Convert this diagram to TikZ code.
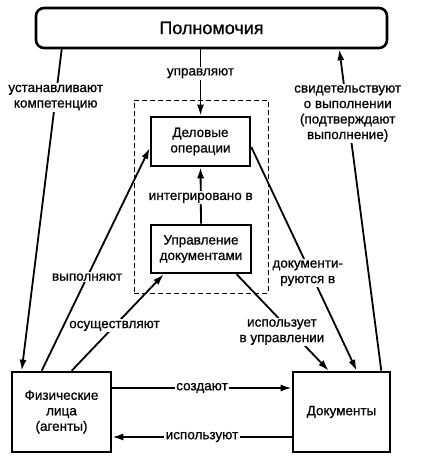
\documentclass[tikz,border=0pt]{standalone}
\usepackage{fontspec}
\setmainfont{Liberation Sans}[FakeBold=0.7]
\usetikzlibrary{arrows.meta}
\begin{document}
\begin{tikzpicture}[x=1pt,y=-1pt,
  box/.style={draw,line width=2.6pt,minimum width=#1,align=center,inner sep=0pt,font=\fontsize{13.5}{15.5}\selectfont},
  conn/.style={line width=1.8pt},
  arr/.style={conn,-{Latex[length=11pt,width=7pt]}},
  lbl/.style={fill=white,inner sep=1.5pt,align=center,font=\fontsize{13.5}{15.5}\selectfont}]
\useasboundingbox (0,0) rectangle (422,463);
\node[box=351pt,minimum height=40pt,rounded corners=8pt,font=\fontsize{18}{20}\selectfont] (polnom) at (211.5,28) {Полномочия};
\node[box=99pt,minimum height=49pt] (delo) at (200.5,141.5) {Деловые\\операции};
\node[box=100pt,minimum height=48pt] (upr) at (201,249) {Управление\\документами};
\node[box=99pt,minimum height=80pt] (fiz) at (61.5,412) {Физические\\лица\\(агенты)};
\node[box=97pt,minimum height=80pt] (doc) at (341.5,412) {Документы};
\node[draw,line width=0.9pt,dash pattern=on 5pt off 3pt,minimum width=134pt,minimum height=193pt,inner sep=0pt] (dash) at (201,196.5) {};

\draw[arr] ([xshift=27pt]polnom.south west) -- node[lbl,pos=0.15] {устанавливают\\компетенцию} ([xshift=11pt]fiz.north west);
\draw[arr] (delo.north |- polnom.south) -- node[lbl,pos=0.36] {управляют} (delo.north);
\draw[arr] ([xshift=-10pt]doc.north east) -- node[lbl,pos=0.8] {свидетельствуют\\о выполнении\\(подтверждают\\выполнение)} ([xshift=-49pt]polnom.south east);
\draw[arr] ([xshift=31pt]fiz.north west) -- node[lbl,pos=0.42] {выполняют} ([yshift=-6.5pt]delo.west);
\draw[arr] (upr.north) -- node[lbl,pos=0.46] {интегрировано в} (delo.south);
\draw[arr] ([xshift=61pt]fiz.north west) -- node[lbl,pos=0.465] {осуществляют} ([xshift=14pt]upr.south west);
\draw[arr] ([yshift=-5.5pt]delo.east) -- node[lbl,pos=0.564,xshift=-3pt] {документи-\\руются в} ([xshift=65pt]doc.north west);
\draw[arr] ([xshift=87pt]upr.south west) -- node[lbl,pos=0.6,xshift=-10pt] {использует\\в управлении} ([xshift=37pt]doc.north west);
\draw[arr] ([yshift=24pt]fiz.east) -- node[lbl] {создают} ([yshift=24pt]doc.west);
\draw[arr] ([yshift=-25pt]doc.west) -- node[lbl] {используют} ([yshift=-25pt]fiz.east);
\end{tikzpicture}
\end{document}
